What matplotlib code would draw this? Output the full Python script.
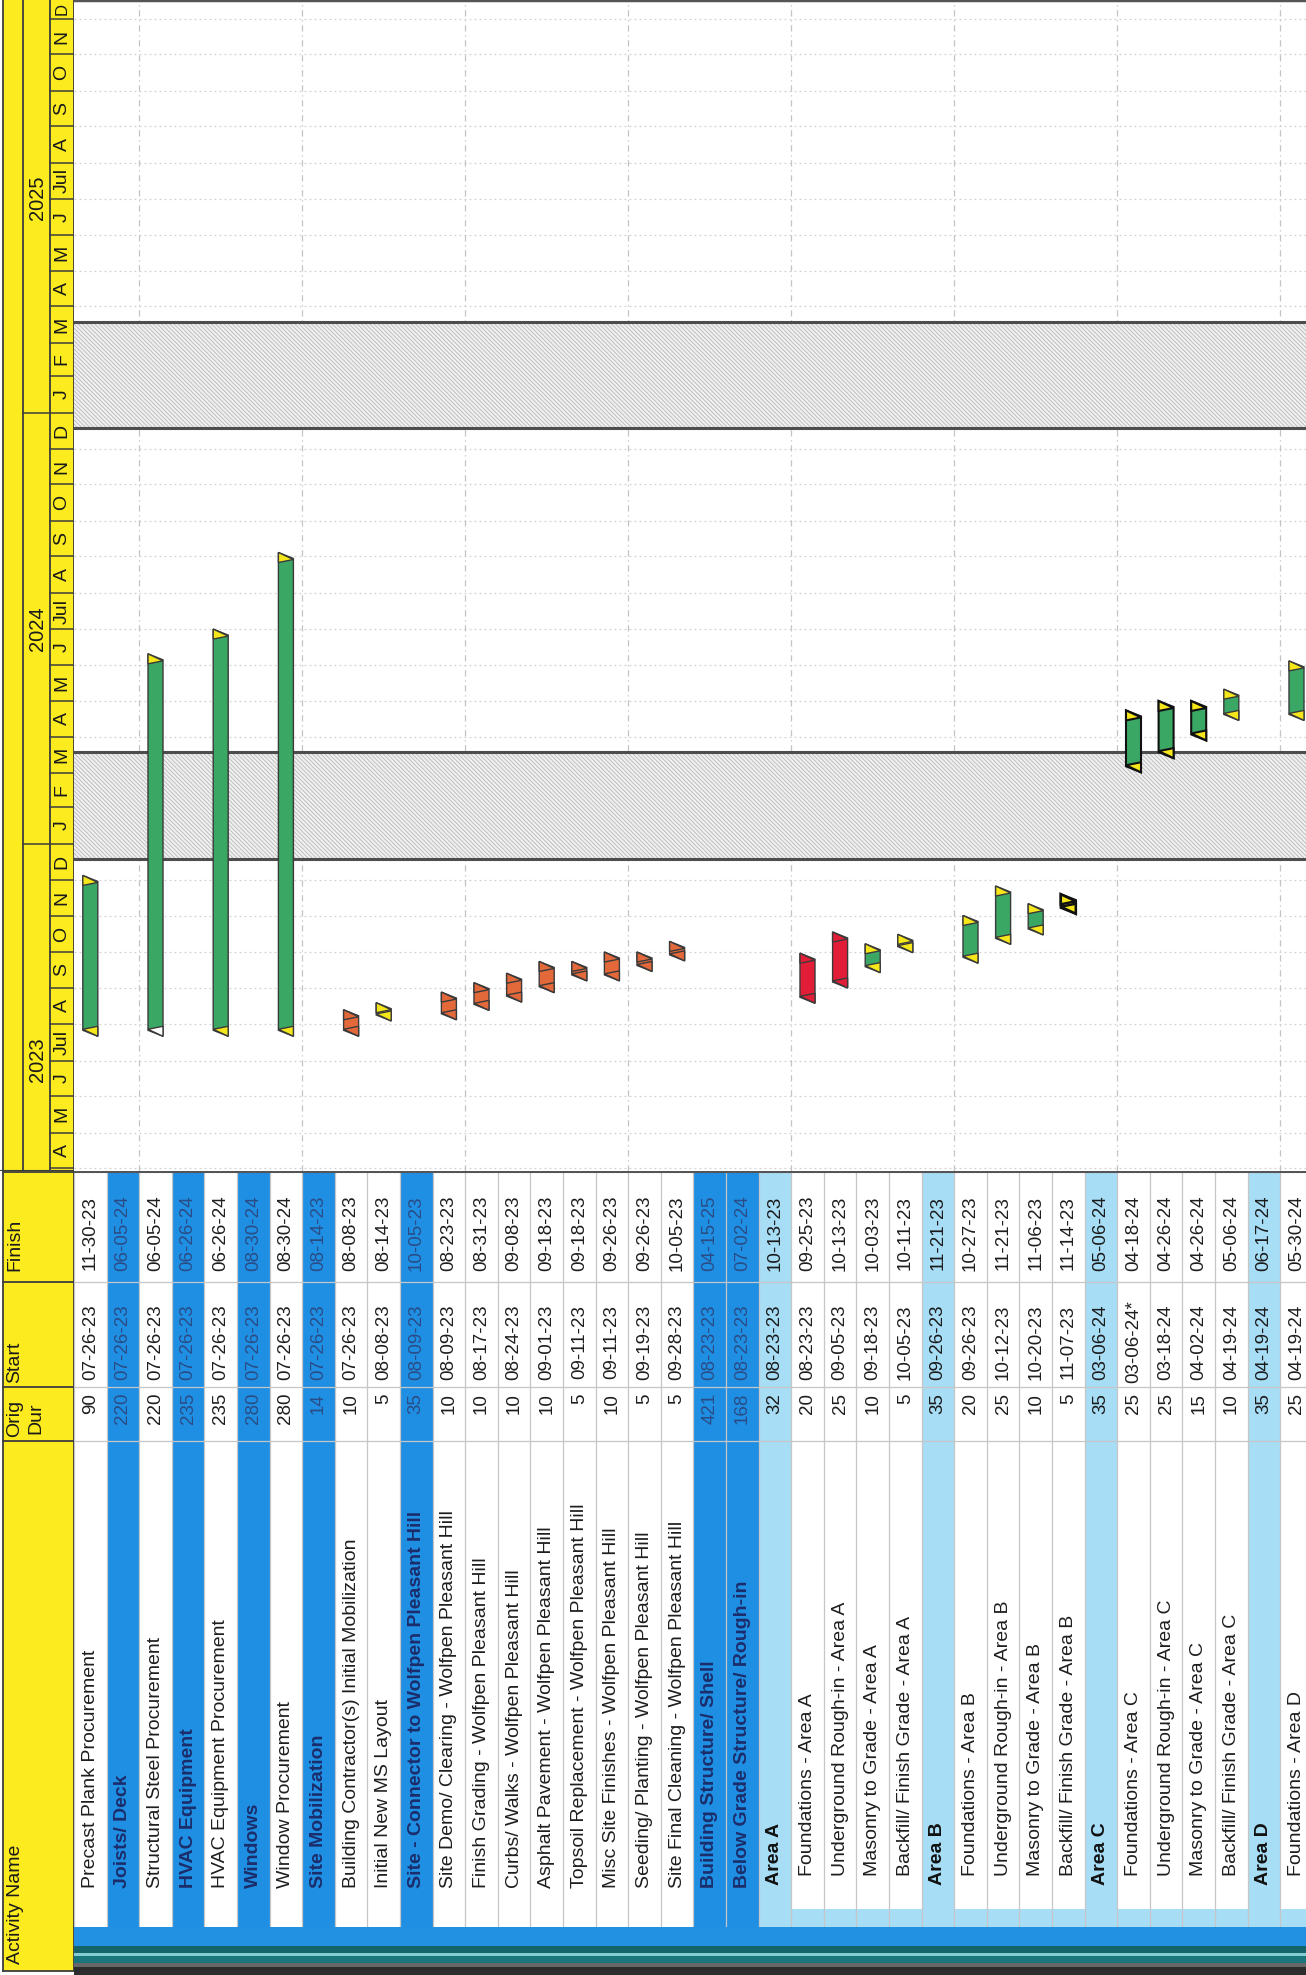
import datetime as dt
import matplotlib
matplotlib.use('Agg')
import matplotlib.pyplot as plt
import matplotlib.dates as mdates
from matplotlib.patches import Rectangle, Polygon
from matplotlib import font_manager

# ---------------- data ----------------
activity_names = [
    "Precast Plank Procurement",
    "Joists/ Deck",
    "Structural Steel Procurement",
    "HVAC Equipment",
    "HVAC Equipment Procurement",
    "Windows",
    "Window Procurement",
    "Site Mobilization",
    "Building Contractor(s) Initial Mobilization",
    "Initial New MS Layout",
    "Site - Connector to Wolfpen Pleasant Hill",
    "Site Demo/ Clearing - Wolfpen Pleasant Hill",
    "Finish Grading - Wolfpen Pleasant Hill",
    "Curbs/ Walks - Wolfpen Pleasant Hill",
    "Asphalt Pavement - Wolfpen Pleasant Hill",
    "Topsoil Replacement - Wolfpen Pleasant Hill",
    "Misc Site Finishes - Wolfpen Pleasant Hill",
    "Seeding/ Planting - Wolfpen Pleasant Hill",
    "Site Final Cleaning - Wolfpen Pleasant Hill",
    "Building Structure/ Shell",
    "Below Grade Structure/ Rough-in",
    "Area A",
    "Foundations - Area A",
    "Underground Rough-in - Area A",
    "Masonry to Grade - Area A",
    "Backfill/ Finish Grade - Area A",
    "Area B",
    "Foundations - Area B",
    "Underground Rough-in - Area B",
    "Masonry to Grade - Area B",
    "Backfill/ Finish Grade - Area B",
    "Area C",
    "Foundations - Area C",
    "Underground Rough-in - Area C",
    "Masonry to Grade - Area C",
    "Backfill/ Finish Grade - Area C",
    "Area D",
    "Foundations - Area D",
]
orig_dur = [90, 220, 220, 235, 235, 280, 280, 14, 10, 5, 35, 10, 10, 10, 10, 5, 10, 5, 5,
            421, 168, 32, 20, 25, 10, 5, 35, 20, 25, 10, 5, 35, 25, 25, 15, 10, 35, 25]
start_dates = ["07-26-23", "07-26-23", "07-26-23", "07-26-23", "07-26-23", "07-26-23",
               "07-26-23", "07-26-23", "07-26-23", "08-08-23", "08-09-23", "08-09-23",
               "08-17-23", "08-24-23", "09-01-23", "09-11-23", "09-11-23", "09-19-23",
               "09-28-23", "08-23-23", "08-23-23", "08-23-23", "08-23-23", "09-05-23",
               "09-18-23", "10-05-23", "09-26-23", "09-26-23", "10-12-23", "10-20-23",
               "11-07-23", "03-06-24", "03-06-24*", "03-18-24", "04-02-24", "04-19-24",
               "04-19-24", "04-19-24"]
finish_dates = ["11-30-23", "06-05-24", "06-05-24", "06-26-24", "06-26-24", "08-30-24",
                "08-30-24", "08-14-23", "08-08-23", "08-14-23", "10-05-23", "08-23-23",
                "08-31-23", "09-08-23", "09-18-23", "09-18-23", "09-26-23", "09-26-23",
                "10-05-23", "04-15-25", "07-02-24", "10-13-23", "09-25-23", "10-13-23",
                "10-03-23", "10-11-23", "11-21-23", "10-27-23", "11-21-23", "11-06-23",
                "11-14-23", "05-06-24", "04-18-24", "04-26-24", "04-26-24", "05-06-24",
                "06-17-24", "05-30-24"]
# row type: task / wbs (summary) / area (sub-summary)
row_kind = ["task", "wbs", "task", "wbs", "task", "wbs", "task", "wbs", "task", "task",
            "wbs", "task", "task", "task", "task", "task", "task", "task", "task",
            "wbs", "wbs", "area", "task", "task", "task", "task", "area", "task", "task",
            "task", "task", "area", "task", "task", "task", "task", "area", "task"]
# bar category per row (None = no bar drawn)
bar_kind = ["green", None, "green_w", None, "green", None, "green", None, "orange", "yellow",
            None, "orange", "orange", "orange", "orange", "orange", "orange", "orange",
            "orange", None, None, None, "red", "red", "green", "yellow", None, "green",
            "green", "green", "yellow_k", None, "green_k", "green_k", "green_k", "green",
            None, "green"]
months_lbl = ["J", "F", "M", "A", "M", "J", "Jul", "A", "S", "O", "N", "D"]
years = [2023, 2024, 2025]
weather_bands = [("12-19-23", "03-19-24"), ("12-19-24", "03-19-25")]

# ---------------- styling / layout ----------------
W, H = 1306, 1975
X0 = 74            # header | rows boundary (px)
TAB_TOP = 1171     # chart | table boundary (px)
PITCH = 32.6       # row pitch (px)
PX_DAY = 1.1786    # px per day
CELL_BOT = 1927

YEL = '#fbeb1f'
LINE = '#3d3d3d'
BLUE = '#1f8fe4'
LBLUE = '#a8ddf6'
GRID = '#d2d2d2'

names = {f.name for f in font_manager.fontManager.ttflist}
FONT = 'Liberation Sans' if 'Liberation Sans' in names else 'DejaVu Sans'
plt.rcParams['font.family'] = [FONT, 'DejaVu Sans']
plt.rcParams['hatch.linewidth'] = 0.6


def d2n(s):
    m, d, y = s.rstrip('*').split('-')
    return mdates.date2num(dt.date(2000 + int(y), int(m), int(d)))


D_BOT = mdates.date2num(dt.date(2023, 4, 1)) - 3 / PX_DAY
D_TOP = D_BOT + TAB_TOP / PX_DAY
NVIS = (W - X0) / PITCH

fig = plt.figure(figsize=(W / 100, H / 100), dpi=100)
fig.patch.set_facecolor('white')


def fax(x0, y0, x1, y1):
    a = fig.add_axes([x0 / W, 1 - y1 / H, (x1 - x0) / W, (y1 - y0) / H])
    a.axis('off')
    return a


# ---------------- chart area ----------------
ax = fax(X0, 0, W, TAB_TOP)
ax.set_xlim(0, NVIS)
ax.set_ylim(D_BOT, D_TOP)

# month gridlines
for y in range(2023, 2027):
    for m in range(1, 13):
        d = mdates.date2num(dt.date(y, m, 1))
        if D_BOT < d < D_TOP:
            ax.axhline(d, color=GRID, lw=0.9, ls=(0, (1.5, 2.5)), zorder=1)
# every-5-rows sight lines
for k in range(2, 40, 5):
    ax.axvline(k, color='#c4c4c4', lw=0.9, ls=(0, (5, 3, 1, 3)), zorder=1)

# weather bands
for a, b in weather_bands:
    ax.add_patch(Rectangle((0, d2n(a)), NVIS, d2n(b) - d2n(a), facecolor='#f0f0f0',
                           edgecolor='#b8b8b8', hatch='\\\\\\\\\\\\\\\\', lw=0, zorder=2))
    for d in (d2n(a), d2n(b)):
        ax.axhline(d, color='#4d4d4d', lw=2.2, zorder=3)
ax.axhline(D_TOP, color='#555555', lw=2.5, zorder=3)

STY = {
    "green": ('#3aa765', '#f6e71a', '#f6e71a', '#3a3a3a', 1.0),
    "green_k": ('#3aa765', '#f6e71a', '#f6e71a', '#111111', 1.5),
    "green_w": ('#3aa765', '#ffffff', '#f6e71a', '#3a3a3a', 1.0),
    "orange": ('#e4693a', '#e4693a', '#e4693a', '#3a3a3a', 1.0),
    "red": ('#e21d38', '#e21d38', '#e21d38', '#3a3a3a', 1.0),
    "yellow": ('#f6e71a', '#f6e71a', '#f6e71a', '#3a3a3a', 1.0),
    "yellow_k": ('#f6e71a', '#f6e71a', '#f6e71a', '#111111', 1.8),
}
half_w = 7.5 / PITCH
sk = 3.0 / PX_DAY
mk = 10.0 / PX_DAY
ext = 2.0 / PX_DAY
for i, bk in enumerate(bar_kind):
    if bk is None:
        continue
    fc, c_start, c_fin, ec, lw = STY[bk]
    ys = d2n(start_dates[i]) - ext
    yf = d2n(finish_dates[i]) + 1 + ext
    xl, xr = i + 0.5 - half_w, i + 0.5 + half_w
    ax.add_patch(Polygon([(xl, ys + sk), (xl, yf + sk), (xr, yf - sk), (xr, ys - sk)],
                         closed=True, fc=fc, ec=ec, lw=lw, zorder=5))
    ax.add_patch(Polygon([(xl, yf + sk), (xl, yf + sk - mk), (xr, yf - sk - 0.1 * mk)],
                         closed=True, fc=c_fin, ec=ec, lw=lw, zorder=6))
    ax.add_patch(Polygon([(xr, ys - sk), (xr, ys - sk + mk), (xl, ys + sk + 0.1 * mk)],
                         closed=True, fc=c_start, ec=ec, lw=lw, zorder=6))

# ---------------- timescale header ----------------
ts = fax(0, 0, X0, TAB_TOP)
ts.set_xlim(0, X0)
ts.set_ylim(D_BOT, D_TOP)
ts.add_patch(Rectangle((3, D_BOT), X0 - 3, D_TOP - D_BOT, fc=YEL, ec='none'))
for x in (3, 23, 50, 73.5):
    ts.plot([x, x], [D_BOT, D_TOP], color=LINE, lw=1.3)
for y in range(2023, 2027):
    for m in range(1, 13):
        d0 = dt.date(y, m, 1)
        d1 = dt.date(y + (m == 12), m % 12 + 1, 1)
        n0, n1 = mdates.date2num(d0), mdates.date2num(d1)
        if D_BOT < n0 < D_TOP:
            ts.plot([23 if m == 1 else 50, X0], [n0, n0], color=LINE, lw=1.1)
        lo, hi = max(n0, D_BOT), min(n1, D_TOP)
        if hi - lo < 12:
            continue
        ts.text(62, (lo + hi) / 2, months_lbl[m - 1], rotation=90, ha='center',
                va='center', fontsize=14 if n1 < D_TOP else 12, color='#1a1a1a',
                clip_on=True)
for y in years:
    ts.text(37, mdates.date2num(dt.date(y, 7, 2)), str(y), rotation=90, ha='center',
            va='center', fontsize=14.5, color='#1a1a1a', clip_on=True)
ts.plot([0, X0], [D_BOT, D_BOT], color=LINE, lw=1.5)

# ---------------- column header ----------------
ch = fax(0, TAB_TOP, X0, H)
ch.set_xlim(0, X0)
ch.set_ylim(H, TAB_TOP)
ch.add_patch(Rectangle((3, TAB_TOP), X0 - 3, 1971 - TAB_TOP, fc=YEL, ec='none'))
for y in (TAB_TOP + 0.5, 1282, 1387, 1441, 1971):
    ch.plot([3, X0], [y, y], color=LINE, lw=1.3)
for x in (3, 73.5):
    ch.plot([x, x], [TAB_TOP, 1971], color=LINE, lw=1.3)
hkw = dict(rotation=90, ha='center', va='bottom', fontsize=14, color='#1a1a1a')
ch.text(15, 1271, 'Finish', **hkw)
ch.text(15, 1383, 'Start', **hkw)
ch.text(15, 1437, 'Orig', **hkw)
ch.text(36, 1434, 'Dur', **hkw)
ch.text(16, 1964, 'Activity Name', **hkw)

# ---------------- activity table ----------------
tb = fax(X0, TAB_TOP, W, H)
tb.set_xlim(0, NVIS)
tb.set_ylim(H, TAB_TOP)

in_area = False
for i, k in enumerate(row_kind):
    if k == 'area':
        in_area = True
    elif k == 'wbs':
        in_area = False
    fc = {'task': 'white', 'wbs': BLUE, 'area': LBLUE}[k]
    tb.add_patch(Rectangle((i, TAB_TOP), 1, CELL_BOT - TAB_TOP, fc=fc, ec='none', zorder=1))
    if k == 'task' and in_area:
        tb.add_patch(Rectangle((i, 1909), 1, CELL_BOT - 1909, fc=LBLUE, ec='none', zorder=1))
    tb.plot([i, i], [TAB_TOP, CELL_BOT], color='#c6c6c6', lw=0.9, zorder=2)

    if k == 'wbs':
        ncol, vcol, wt = '#1b2d6b', '#2a4c85', 'bold'
    elif k == 'area':
        ncol, vcol, wt = '#111111', '#1a1a1a', 'bold'
    else:
        ncol, vcol, wt = '#1e1e1e', '#1e1e1e', 'normal'
    nb = 1876 if (k == 'task' and in_area) else (1885 if k == 'area' else 1888)
    cx = i + 0.5
    tb.text(cx, nb, activity_names[i], rotation=90, ha='center', va='bottom',
            fontsize=14, color=ncol, fontweight=wt, zorder=4, clip_on=True)
    tb.text(cx, 1393, str(orig_dur[i]), rotation=90, ha='center', va='top',
            fontsize=13.5, color=vcol, zorder=4, clip_on=True)
    tb.text(cx, 1342, start_dates[i], rotation=90, ha='center', va='center',
            fontsize=13.5, color=vcol, zorder=4, clip_on=True)
    tb.text(cx, 1233, finish_dates[i], rotation=90, ha='center', va='center',
            fontsize=13.5, color=vcol, zorder=4, clip_on=True)

for y in (1282, 1387, 1441):
    tb.plot([0, NVIS], [y, y], color='#c6c6c6', lw=0.9, zorder=2)
tb.plot([0, NVIS], [TAB_TOP + 0.5, TAB_TOP + 0.5], color='#555555', lw=1.5, zorder=3)

stripes = [(1927, 1946, '#2391e2'), (1946, 1953, '#15646a'), (1953, 1956, '#86cdd3'),
           (1956, 1963, '#1b767c'), (1963, 1967, '#676767'), (1967, 1976, '#2c2c2c')]
for y0, y1, c in stripes:
    tb.add_patch(Rectangle((0, y0), NVIS, y1 - y0, fc=c, ec='none', zorder=3))

fig.savefig('out.png', dpi=100, facecolor='white')
